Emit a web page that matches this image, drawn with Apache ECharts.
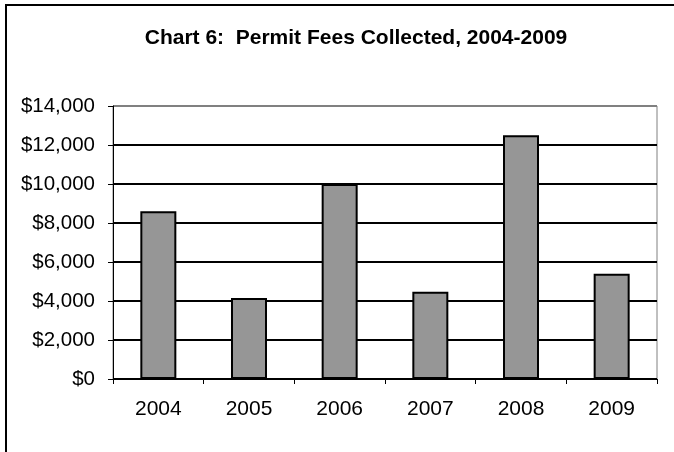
<!DOCTYPE html>
<html>
<head>
<meta charset="utf-8">
<script src="https://cdn.jsdelivr.net/npm/echarts@6/dist/echarts.min.js"></script>
<style>
  html, body { margin: 0; padding: 0; background: #fff; }
  #chart { width: 674px; height: 452px; }
</style>
</head>
<body>
<div id="chart"></div>
<script>
const years = ['2004', '2005', '2006', '2007', '2008', '2009'];
const fees = [8600, 4150, 10000, 4480, 12500, 5400];
const yTicks = { min: 0, max: 14000, interval: 2000 };

const font = 'Liberation Sans, Arial, sans-serif';
const chart = echarts.init(document.getElementById('chart'));

chart.setOption({
  animation: false,
  backgroundColor: '#fff',
  title: {
    text: 'Chart 6:  Permit Fees Collected, 2004-2009',
    left: 351,
    textAlign: 'center',
    top: 23,
    textStyle: { fontFamily: font, fontSize: 21, fontWeight: 'bold', color: '#000' }
  },
  // outer chart frame, cut off at right and bottom like the source
  graphic: [{
    type: 'rect',
    shape: { x: 6, y: 5, width: 700, height: 480 },
    style: { fill: null, stroke: '#000', lineWidth: 2 },
    silent: true
  }],
  grid: {
    left: 113, right: 17, top: 106, bottom: 73,
    show: true, borderColor: '#808080', borderWidth: 1
  },
  xAxis: {
    type: 'category',
    data: years,
    axisLine: { lineStyle: { color: '#000', width: 1 } },
    axisTick: { show: true, length: 5, lineStyle: { color: '#000' } },
    axisLabel: { fontFamily: font, fontSize: 21, color: '#000', margin: 20 }
  },
  yAxis: {
    type: 'value',
    min: yTicks.min, max: yTicks.max, interval: yTicks.interval,
    axisLine: { show: true, lineStyle: { color: '#000', width: 1 } },
    axisTick: { show: true, length: 5, lineStyle: { color: '#000' } },
    axisLabel: {
      fontFamily: font, fontSize: 20.5, color: '#000', margin: 18,
      formatter: v => '$' + v.toLocaleString('en-US')
    },
    splitLine: {
      lineStyle: {
        color: ['#000', '#000', '#000', '#000', '#000', '#000', '#000', '#808080'],
        width: 2
      }
    }
  },
  series: [{
    type: 'bar',
    data: fees,
    barWidth: 36,
    itemStyle: { color: '#969696', borderColor: '#000', borderWidth: 2 }
  }]
});
</script>
</body>
</html>
